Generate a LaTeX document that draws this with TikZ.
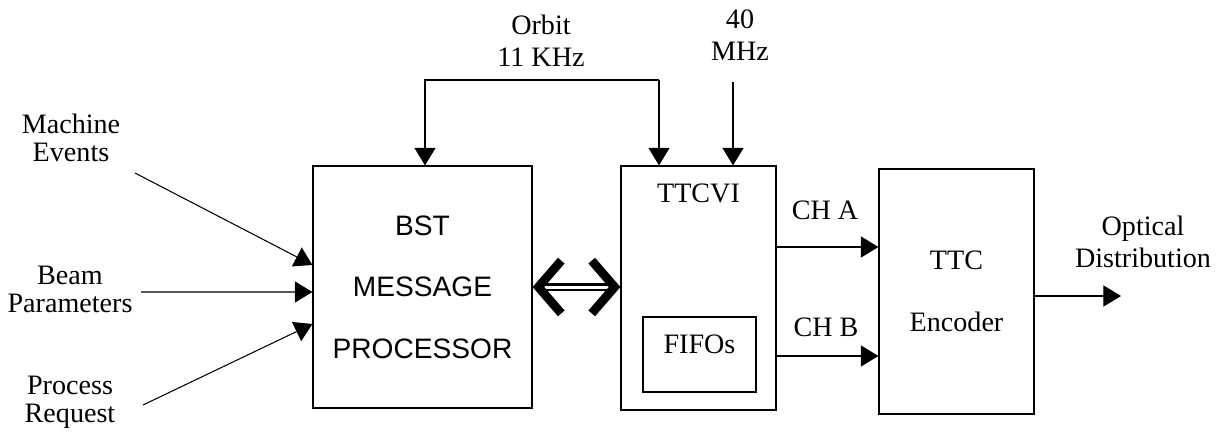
\documentclass[tikz,border=0pt]{standalone}
\usepackage{fontspec}
\setmainfont{Liberation Serif}
\setsansfont{Liberation Sans}
\usetikzlibrary{arrows.meta}
\tikzset{
  box/.style={draw, line width=0.7pt, inner sep=0pt},
  sig/.style={line width=0.6pt, -{Triangle[length=10pt,width=12pt]}},
  barb/.tip={Straight Barb[length=13pt,width=30pt,line width=5pt]},
  bus/.style={double, double distance=1.7pt, line width=1.4pt, barb-barb},
  txt/.style={align=center, inner sep=0pt}
}
\begin{document}
\begin{tikzpicture}[x=0.02cm, y=-0.02cm, font=\fontsize{16}{17}\selectfont]
  \useasboundingbox (0,0) rectangle (1222,447);
  % blocks
  \node[box, minimum width=4.38cm, minimum height=4.84cm, align=center,
    font=\sffamily\fontsize{16}{17}\selectfont] (bst) at (422.5,287)
    {BST\\[18pt]MESSAGE\\[18pt]PROCESSOR};
  \node[box, minimum width=3.1cm, minimum height=4.88cm] (ttcvi) at (698.5,288) {};
  \node[box, minimum width=2.26cm, minimum height=1.5cm] (fifo) at (699.5,354.5) {};
  \node[box, minimum width=3.1cm, minimum height=4.9cm, align=center] (ttc) at (956.5,291.5)
    {TTC\\[18pt]Encoder};
  \node (ttcvilbl) at (698.5,193) {TTCVI};
  \node (fifolbl) at (699.5,344) {FIFOs};
  % labels
  \node[txt] (machine) at (71,138) {Machine\\[-1pt]Events};
  \node[txt] (beam) at (70,289) {Beam\\[-1pt]Parameters};
  \node[txt] (process) at (70,402) {Process\\[-1pt]Request};
  \node[txt] (orbit) at (541,41) {Orbit\\[1pt]11 KHz};
  \node[txt] (clock) at (740,35) {40\\[1pt]MHz};
  \node[txt] (optical) at (1143,242) {Optical\\[1pt]Distribution};
  \node (cha) at (825,210) {CH A};
  \node (chb) at (826,327) {CH B};
  % inputs
  \coordinate (m0) at (135,173);
  \coordinate (b0) at (141,292);
  \coordinate (p0) at (143,405);
  \draw[sig] (m0) -- ([yshift=0.44cm]bst.west);
  \draw[sig] (b0) -- ([yshift=-0.1cm]bst.west);
  \draw[sig] (p0) -- ([yshift=-0.74cm]bst.west);
  % orbit and clock
  \coordinate (o1) at (425,80);
  \coordinate (o2) at (659,80);
  \coordinate (c40) at (733,82);
  \draw[sig] (o2) -- (o1) -- (o1 |- bst.north);
  \draw[sig] (o2) -- (o2 |- ttcvi.north);
  \draw[sig] (c40) -- (c40 |- ttcvi.north);
  % bus
  \draw[bus] (bst.east) -- (bst.east -| ttcvi.west);
  % channels
  \coordinate (cha0) at ([yshift=0.82cm]ttcvi.east);
  \coordinate (chb0) at ([yshift=-1.36cm]ttcvi.east);
  \draw[sig] (cha0) -- (cha0 -| ttc.west);
  \draw[sig] (chb0) -- (chb0 -| ttc.west);
  % output
  \coordinate (out) at (1121,296);
  \draw[sig] (ttc.east |- out) -- (out);
\end{tikzpicture}
\end{document}
